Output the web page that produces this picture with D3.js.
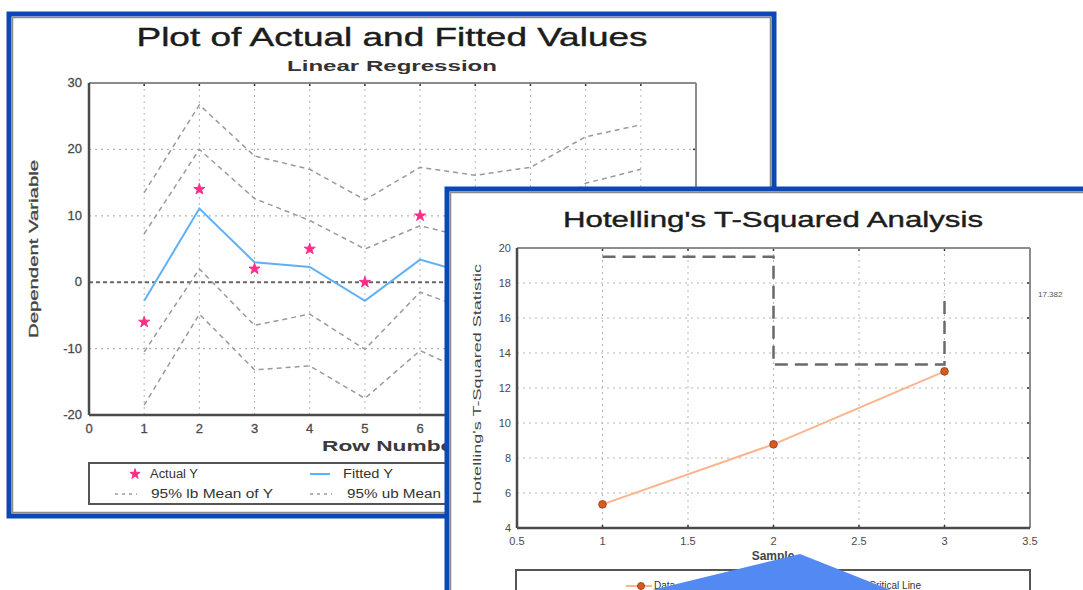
<!DOCTYPE html>
<html>
<head>
<meta charset="utf-8">
<script src="https://cdn.jsdelivr.net/npm/d3@7"></script>
<style>
  body { margin: 0; background: #fff; }
  svg { display: block; font-family: "Liberation Sans", Arial, sans-serif; }
</style>
</head>
<body>
<div id="chart"></div>
<script>
// left chart: regression
const rowNumber = [1, 2, 3, 4, 5, 6, 7, 8, 9, 10];
const actualY = [-6, 14, 2, 5, 0, 10, 4, -1];
const fittedY = [-2.8, 11.1, 3.0, 2.3, -2.8, 3.4, 1.0, 2.0, 6.6, 7.9];
const lbMean = [-10.5, 2.0, -6.5, -4.8, -10.1, -1.5, -4.5, -3.8, -1.7, -1.2];
const ubMean = [7.3, 20.0, 12.6, 9.3, 5.0, 8.5, 6.5, 7.8, 14.9, 17.0];
const lbIndiv = [-18.5, -4.8, -13.2, -12.6, -17.5, -10.3, -14.1, -13.3, -8.7, -7.9];
const ubIndiv = [13.5, 26.7, 19.0, 17.0, 12.4, 17.3, 16.1, 17.3, 21.9, 23.7];
const leftXTicks = [0, 1, 2, 3, 4, 5, 6, 7, 8, 9, 10, 11];
const leftYTicks = [-20, -10, 0, 10, 20, 30];

// right chart: hotelling
const sample = [1, 2, 3];
const tSquared = [5.35, 8.78, 12.95];
const uclValues = [19.5, 13.35, 17.382];
const rightXTicks = [0.5, 1, 1.5, 2, 2.5, 3, 3.5];
const rightYTicks = [4, 6, 8, 10, 12, 14, 16, 18, 20];

const W = 1083, H = 590;
const svg = d3.select("#chart").append("svg").attr("width", W).attr("height", H);

function windowFrame(x, y, w, h) {
  svg.append("rect").attr("x", x).attr("y", y).attr("width", w).attr("height", h)
    .attr("fill", "#fff").attr("stroke", "#0b48b5").attr("stroke-width", 5);
  svg.append("rect").attr("x", x + 3.5).attr("y", y + 3.5).attr("width", w - 7).attr("height", h - 7)
    .attr("fill", "none").attr("stroke", "#8a8a8a").attr("stroke-width", 1.5);
}

function plotFrame(g, w, h) {
  g.append("line").attr("x1", 0).attr("x2", w).attr("y1", 0).attr("y2", 0).attr("stroke", "#8c8c8c").attr("stroke-width", 2);
  g.append("line").attr("x1", w).attr("x2", w).attr("y1", 0).attr("y2", h).attr("stroke", "#8c8c8c").attr("stroke-width", 2);
  g.append("line").attr("x1", 0).attr("x2", w).attr("y1", h).attr("y2", h).attr("stroke", "#4a4a4a").attr("stroke-width", 2.5);
  g.append("line").attr("x1", 0).attr("x2", 0).attr("y1", 0).attr("y2", h).attr("stroke", "#4a4a4a").attr("stroke-width", 2.5);
}

// stretched text, like the blurry wide screenshot
function wideText(sel, len) {
  return sel.attr("textLength", len).attr("lengthAdjust", "spacingAndGlyphs");
}

// ---------- left window ----------
windowFrame(9, 14, 765, 502);

const L = { left: 89, top: 83, width: 607, height: 332 };
const lg = svg.append("g").attr("transform", `translate(${L.left},${L.top})`);
const lx = d3.scaleLinear().domain([0, 11]).range([0, L.width]);
const ly = d3.scaleLinear().domain([-20, 30]).range([L.height, 0]);

wideText(svg.append("text").attr("x", 392).attr("y", 46).attr("text-anchor", "middle")
  .attr("font-size", 26).attr("fill", "#1c1c1c").attr("stroke", "#1c1c1c").attr("stroke-width", 0.4), 511)
  .text("Plot of Actual and Fitted Values");
wideText(svg.append("text").attr("x", 392).attr("y", 71).attr("text-anchor", "middle")
  .attr("font-size", 15).attr("font-weight", "bold").attr("fill", "#333"), 210)
  .text("Linear Regression");

// grid
lg.selectAll(".vgrid").data(leftXTicks.filter(d => d > 0 && d < 11)).enter().append("line")
  .attr("x1", d => lx(d)).attr("x2", d => lx(d)).attr("y1", 0).attr("y2", L.height)
  .attr("stroke", "#b5b5b5").attr("stroke-width", 1).attr("stroke-dasharray", "2,4");
lg.selectAll(".hgrid").data(leftYTicks.filter(d => d > -20 && d < 30 && d !== 0)).enter().append("line")
  .attr("x1", 0).attr("x2", L.width).attr("y1", d => ly(d)).attr("y2", d => ly(d))
  .attr("stroke", "#b5b5b5").attr("stroke-width", 1.2).attr("stroke-dasharray", "2,4");
lg.append("line").attr("x1", 0).attr("x2", L.width).attr("y1", ly(0)).attr("y2", ly(0))
  .attr("stroke", "#666").attr("stroke-width", 2).attr("stroke-dasharray", "4,3");

// small ticks at top / right
lg.selectAll(".ttick").data(leftXTicks.filter(d => d > 0 && d < 11)).enter().append("line")
  .attr("x1", d => lx(d)).attr("x2", d => lx(d)).attr("y1", 0).attr("y2", 3).attr("stroke", "#333").attr("stroke-width", 1.5);
lg.selectAll(".rtick").data(leftYTicks.filter(d => d > -20 && d < 30)).enter().append("line")
  .attr("x1", L.width - 3).attr("x2", L.width).attr("y1", d => ly(d)).attr("y2", d => ly(d)).attr("stroke", "#333").attr("stroke-width", 1.5);

plotFrame(lg, L.width, L.height);

// axis labels
lg.selectAll(".xl").data(leftXTicks.filter(d => d < 11)).enter().append("text")
  .attr("x", d => lx(d)).attr("y", L.height + 18).attr("text-anchor", "middle")
  .attr("font-size", 13).attr("fill", "#4a4a4a").attr("stroke", "#4a4a4a").attr("stroke-width", 0.3).text(d => d);
lg.selectAll(".yl").data(leftYTicks).enter().append("text")
  .attr("x", -7).attr("y", d => ly(d) + 4).attr("text-anchor", "end")
  .attr("font-size", 13).attr("fill", "#4a4a4a").attr("stroke", "#4a4a4a").attr("stroke-width", 0.3).text(d => d);
wideText(svg.append("text").attr("x", 392).attr("y", 451).attr("text-anchor", "middle")
  .attr("font-size", 15).attr("font-weight", "bold").attr("fill", "#3a3a3a"), 140)
  .text("Row Number");
wideText(svg.append("text").attr("transform", `translate(38,249) rotate(-90)`).attr("text-anchor", "middle")
  .attr("font-size", 13).attr("fill", "#444").attr("stroke", "#444").attr("stroke-width", 0.3), 178)
  .text("Dependent Variable");

// series
const lineL = d3.line().x(d => lx(d[0])).y(d => ly(d[1]));
[lbIndiv, lbMean, ubMean, ubIndiv].forEach(s => {
  lg.append("path").datum(rowNumber.map((r, i) => [r, s[i]]))
    .attr("d", lineL).attr("fill", "none").attr("stroke", "#9a9a9a")
    .attr("stroke-width", 1.5).attr("stroke-dasharray", "5,4");
});
lg.append("path").datum(rowNumber.map((r, i) => [r, fittedY[i]]))
  .attr("d", lineL).attr("fill", "none").attr("stroke", "#5fb0f7").attr("stroke-width", 2);
lg.selectAll(".star").data(actualY.map((v, i) => [rowNumber[i], v])).enter().append("path")
  .attr("transform", d => `translate(${lx(d[0])},${ly(d[1])})`)
  .attr("d", d3.symbol().type(d3.symbolStar).size(38)).attr("fill", "#ff2d87")
  .attr("stroke", "#ff2d87").attr("stroke-width", 1);

// legend
svg.append("rect").attr("x", 89).attr("y", 463).attr("width", 607).attr("height", 41)
  .attr("fill", "#fff").attr("stroke", "#555").attr("stroke-width", 2);
const legL = svg.append("g").attr("font-size", 12).attr("fill", "#333");
legL.append("path").attr("transform", "translate(135,474)")
  .attr("d", d3.symbol().type(d3.symbolStar).size(32)).attr("fill", "#ff2d87").attr("stroke", "#ff2d87");
wideText(legL.append("text").attr("x", 150).attr("y", 478), 48).text("Actual Y");
legL.append("line").attr("x1", 310).attr("x2", 330).attr("y1", 474).attr("y2", 474).attr("stroke", "#5fb0f7").attr("stroke-width", 2);
wideText(legL.append("text").attr("x", 343).attr("y", 478), 50).text("Fitted Y");
[[115, 151, "95% lb Mean of Y", 122], [310, 347, "95% ub Mean of Y", 125], [505, 542, "95% lb Individual Y", 130]].forEach(([lx1, tx, label, len]) => {
  legL.append("line").attr("x1", lx1).attr("x2", lx1 + 22).attr("y1", 494).attr("y2", 494)
    .attr("stroke", "#9a9a9a").attr("stroke-width", 1.5).attr("stroke-dasharray", "3,4");
  wideText(legL.append("text").attr("x", tx).attr("y", 498), len).text(label);
});

// ---------- right window ----------
svg.append("rect").attr("x", 447).attr("y", 189).attr("width", 700).attr("height", 500)
  .attr("fill", "#fff").attr("stroke", "#0b48b5").attr("stroke-width", 5);
svg.append("rect").attr("x", 450.5).attr("y", 192.5).attr("width", 700).attr("height", 500)
  .attr("fill", "none").attr("stroke", "#8a8a8a").attr("stroke-width", 1.5);

const R = { left: 517, top: 248, width: 513, height: 280 };
const rg = svg.append("g").attr("transform", `translate(${R.left},${R.top})`);
const rx = d3.scaleLinear().domain([0.5, 3.5]).range([0, R.width]);
const ry = d3.scaleLinear().domain([4, 20]).range([R.height, 0]);

wideText(svg.append("text").attr("x", 773).attr("y", 227).attr("text-anchor", "middle")
  .attr("font-size", 22).attr("fill", "#1c1c1c").attr("stroke", "#1c1c1c").attr("stroke-width", 0.4), 420)
  .text("Hotelling's T-Squared Analysis");

rg.selectAll(".vgrid").data(rightXTicks.filter(d => d > 0.5 && d < 3.5)).enter().append("line")
  .attr("x1", d => rx(d)).attr("x2", d => rx(d)).attr("y1", 0).attr("y2", R.height)
  .attr("stroke", "#b5b5b5").attr("stroke-width", 1).attr("stroke-dasharray", "2,4");
rg.selectAll(".hgrid").data(rightYTicks.filter(d => d > 4 && d < 20)).enter().append("line")
  .attr("x1", 0).attr("x2", R.width).attr("y1", d => ry(d)).attr("y2", d => ry(d))
  .attr("stroke", "#b5b5b5").attr("stroke-width", 1.2).attr("stroke-dasharray", "2,4");
rg.selectAll(".ttick").data(rightXTicks.filter(d => d > 0.5 && d < 3.5)).enter().append("line")
  .attr("x1", d => rx(d)).attr("x2", d => rx(d)).attr("y1", 0).attr("y2", 3).attr("stroke", "#333").attr("stroke-width", 1.5);
rg.selectAll(".btick").data(rightXTicks.filter(d => d > 0.5 && d < 3.5)).enter().append("line")
  .attr("x1", d => rx(d)).attr("x2", d => rx(d)).attr("y1", R.height - 3).attr("y2", R.height).attr("stroke", "#333").attr("stroke-width", 1.5);
rg.selectAll(".rtick").data(rightYTicks.filter(d => d > 4 && d < 20)).enter().append("line")
  .attr("x1", R.width - 3).attr("x2", R.width).attr("y1", d => ry(d)).attr("y2", d => ry(d)).attr("stroke", "#333").attr("stroke-width", 1.5);

plotFrame(rg, R.width, R.height);

rg.selectAll(".xl").data(rightXTicks).enter().append("text")
  .attr("x", d => rx(d)).attr("y", R.height + 17).attr("text-anchor", "middle")
  .attr("font-size", 11).attr("fill", "#4a4a4a").text(d => d);
rg.selectAll(".yl").data(rightYTicks).enter().append("text")
  .attr("x", -6).attr("y", d => ry(d) + 4).attr("text-anchor", "end")
  .attr("font-size", 11).attr("fill", "#4a4a4a").text(d => d);
svg.append("text").attr("x", 773).attr("y", 560).attr("text-anchor", "middle")
  .attr("font-size", 12).attr("font-weight", "bold").attr("fill", "#444").text("Sample");
wideText(svg.append("text").attr("transform", `translate(481,384) rotate(-90)`).attr("text-anchor", "middle")
  .attr("font-size", 11).attr("fill", "#444"), 240)
  .text("Hotelling's T-Squared Statistic");

// limit step line
rg.append("path").datum(sample.map((s, i) => [s, uclValues[i]]))
  .attr("d", d3.line().x(d => rx(d[0])).y(d => ry(d[1])).curve(d3.curveStepAfter))
  .attr("fill", "none").attr("stroke", "#6a6a6a").attr("stroke-width", 2.5).attr("stroke-dasharray", "13,7");
svg.append("text").attr("x", 1038).attr("y", ry(uclValues[2]) + R.top + 3)
  .attr("font-size", 8).attr("fill", "#555").text(uclValues[2]);

// data
rg.append("path").datum(sample.map((s, i) => [s, tSquared[i]]))
  .attr("d", d3.line().x(d => rx(d[0])).y(d => ry(d[1])))
  .attr("fill", "none").attr("stroke", "#ffb38c").attr("stroke-width", 2);
rg.selectAll(".pt").data(sample.map((s, i) => [s, tSquared[i]])).enter().append("circle")
  .attr("cx", d => rx(d[0])).attr("cy", d => ry(d[1])).attr("r", 3.8)
  .attr("fill", "#d95a1c").attr("stroke", "#9a4a2a").attr("stroke-width", 1);

// legend
svg.append("rect").attr("x", 516).attr("y", 570).attr("width", 514).attr("height", 40)
  .attr("fill", "#fff").attr("stroke", "#555").attr("stroke-width", 2);
svg.append("line").attr("x1", 626).attr("x2", 652).attr("y1", 586).attr("y2", 586).attr("stroke", "#ffb38c").attr("stroke-width", 2);
svg.append("circle").attr("cx", 641).attr("cy", 586).attr("r", 3.5).attr("fill", "#d95a1c").attr("stroke", "#9a4a2a");
svg.append("text").attr("x", 654).attr("y", 589).attr("font-size", 10).attr("fill", "#333").text("Data");
svg.append("text").attr("x", 921).attr("y", 589).attr("text-anchor", "end").attr("font-size", 10).attr("fill", "#333").text("Critical Line");

// pointer overlay
svg.append("polygon").attr("points", "648,591 800,554 893,591").attr("fill", "#5289f2");
</script>
</body>
</html>
